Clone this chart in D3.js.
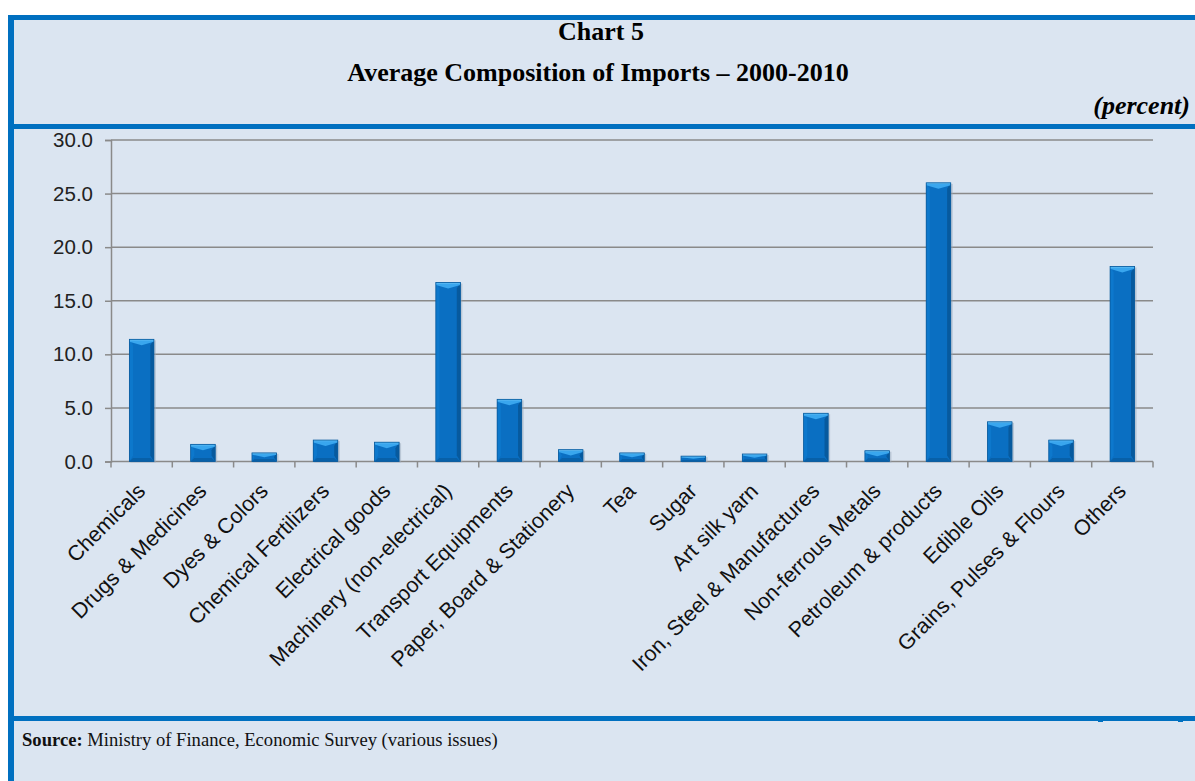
<!DOCTYPE html>
<html><head><meta charset="utf-8">
<script src="https://cdn.jsdelivr.net/npm/d3@7"></script>
<style>html,body{margin:0;padding:0;background:#fff;}svg{display:block;}</style>
</head><body>
<script>
const categories = ["Chemicals","Drugs & Medicines","Dyes & Colors","Chemical Fertilizers","Electrical goods","Machinery (non-electrical)","Transport Equipments","Paper, Board & Stationery","Tea","Sugar","Art silk yarn","Iron, Steel & Manufactures","Non-ferrous Metals","Petroleum & products","Edible Oils","Grains, Pulses & Flours","Others"];
const values = [11.4,1.6,0.8,2.0,1.8,16.7,5.8,1.1,0.8,0.5,0.7,4.5,1.0,26.0,3.7,2.0,18.2];
const yTicks = [0,5,10,15,20,25,30];
const titleLines = ["Chart 5","Average Composition of Imports \u2013 2000-2010"];
const unitLabel = "(percent)";
const sourceBold = "Source:";
const sourceText = " Ministry of Finance, Economic Survey (various issues)";

const W = 1195, H = 781;
const svg = d3.select("body").append("svg").attr("width", W).attr("height", H);
const blue = "#0070c0", bg = "#dbe5f1";
const serif = "Liberation Serif, Times New Roman, serif";
const sans = "Liberation Sans, Arial, sans-serif";

// panel background
svg.append("rect").attr("x",8).attr("y",15).attr("width",W-8).attr("height",H-15).attr("fill",bg);
// borders
svg.append("rect").attr("x",8).attr("y",15).attr("width",W-8).attr("height",5).attr("fill",blue);
svg.append("rect").attr("x",8).attr("y",15).attr("width",6).attr("height",H-15).attr("fill",blue);
svg.append("rect").attr("x",8).attr("y",124).attr("width",W-8).attr("height",5).attr("fill",blue);
svg.append("rect").attr("x",8).attr("y",716).attr("width",W-8).attr("height",5).attr("fill",blue);
[1098,1178].forEach(x=>svg.append("rect").attr("x",x).attr("y",719).attr("width",5).attr("height",3).attr("fill",blue));

// titles
svg.append("text").attr("x",601).attr("y",40).attr("text-anchor","middle")
  .attr("font-family",serif).attr("font-weight","bold").attr("font-size",26)
  .text(titleLines[0]);
svg.append("text").attr("x",598).attr("y",81).attr("text-anchor","middle")
  .attr("font-family",serif).attr("font-weight","bold").attr("font-size",26)
  .text(titleLines[1]);
svg.append("text").attr("x",1190).attr("y",114).attr("text-anchor","end")
  .attr("font-family",serif).attr("font-weight","bold").attr("font-style","italic").attr("font-size",26)
  .text(unitLabel);

// source
const st = svg.append("text").attr("x",22).attr("y",746)
  .attr("font-family",serif).attr("font-size",18.6).attr("fill","#111");
st.append("tspan").attr("font-weight","bold").text(sourceBold);
st.append("tspan").text(sourceText);

// scales
const x0 = 111, x1 = 1153, yBase = 461.5, yTop = 140;
const x = d3.scaleBand().domain(categories).range([x0,x1]).paddingInner(0.6).paddingOuter(0.3);
const xb = d3.scaleBand().domain(categories).range([x0,x1]).padding(0);
const y = d3.scaleLinear().domain([0,30]).range([yBase,yTop]);

// gridlines
const grid = svg.append("g");
grid.selectAll("line").data(yTicks.filter(d=>d>0)).join("line")
  .attr("x1",x0).attr("x2",x1).attr("y1",d=>y(d)).attr("y2",d=>y(d))
  .attr("stroke","#8a8a8a").attr("stroke-width",1.5);

// y axis
const yAxis = svg.append("g").attr("transform",`translate(${x0},0)`)
  .call(d3.axisLeft(y).tickValues(yTicks).tickFormat(d3.format(".1f")).tickSize(6).tickPadding(12));
yAxis.select(".domain").attr("stroke","#8a8a8a").attr("stroke-width",1.5);
yAxis.selectAll(".tick line").attr("stroke","#8a8a8a").attr("stroke-width",1.5);
yAxis.selectAll("text").attr("font-family",sans).attr("font-size",20.5).attr("fill","#222");

// x axis line & ticks
const xAxis = svg.append("g");
xAxis.append("line").attr("x1",x0).attr("x2",x1).attr("y1",yBase).attr("y2",yBase).attr("stroke","#8a8a8a").attr("stroke-width",1.5);
const bounds = categories.map(c=>xb(c)).concat([x1]);
xAxis.selectAll("line.t").data(bounds).join("line").attr("class","t")
  .attr("x1",d=>d).attr("x2",d=>d).attr("y1",yBase).attr("y2",yBase+6)
  .attr("stroke","#8a8a8a").attr("stroke-width",1.5);

// bars with bevel
const bars = svg.append("g");
categories.forEach((c,i)=>{
  const v = values[i];
  const bx = x(c), bw = x.bandwidth(), by = y(v), bh = yBase - by;
  const d = Math.min(6, bh/2, bw/2);
  const g = bars.append("g");
  g.append("rect").attr("x",bx+1).attr("y",by+1).attr("width",bw+1).attr("height",bh).attr("fill","#9aa9bb").attr("opacity",0.5);
  g.append("rect").attr("x",bx).attr("y",by).attr("width",bw).attr("height",bh).attr("fill","#0a6fc2");
  g.append("polygon").attr("points",[[bx,by],[bx+d*0.6,by+d],[bx+d*0.6,yBase-d],[bx,yBase]].join(" ")).attr("fill","#0d78cc");
  g.append("polygon").attr("points",[[bx+bw,by],[bx+bw-d*0.6,by+d],[bx+bw-d*0.6,yBase-d],[bx+bw,yBase]].join(" ")).attr("fill","#075a9e");
  g.append("polygon").attr("points",[[bx,yBase],[bx+d*0.6,yBase-d*0.6],[bx+bw-d*0.6,yBase-d*0.6],[bx+bw,yBase]].join(" ")).attr("fill","#0860a8");
  g.append("polygon").attr("points",[[bx,by],[bx+bw,by],[bx+bw,by+d*0.4],[bx+bw/2,by+d],[bx,by+d*0.4]].join(" ")).attr("fill","#39a6ee");
  g.append("rect").attr("x",bx).attr("y",by).attr("width",bw).attr("height",1.2).attr("fill","#5dbcf5");
  g.append("rect").attr("x",bx).attr("y",by).attr("width",bw).attr("height",bh).attr("fill","none").attr("stroke","#0a5a9c").attr("stroke-width",0.8);
});

// x labels
svg.append("g").selectAll("text").data(categories).join("text")
  .attr("transform",c=>`translate(${xb(c)+xb.bandwidth()/2+5},${yBase+31}) rotate(-45)`)
  .attr("text-anchor","end")
  .attr("font-family",sans).attr("font-size",21.5).attr("fill","#111")
  .text(c=>c);
</script>
</body></html>
